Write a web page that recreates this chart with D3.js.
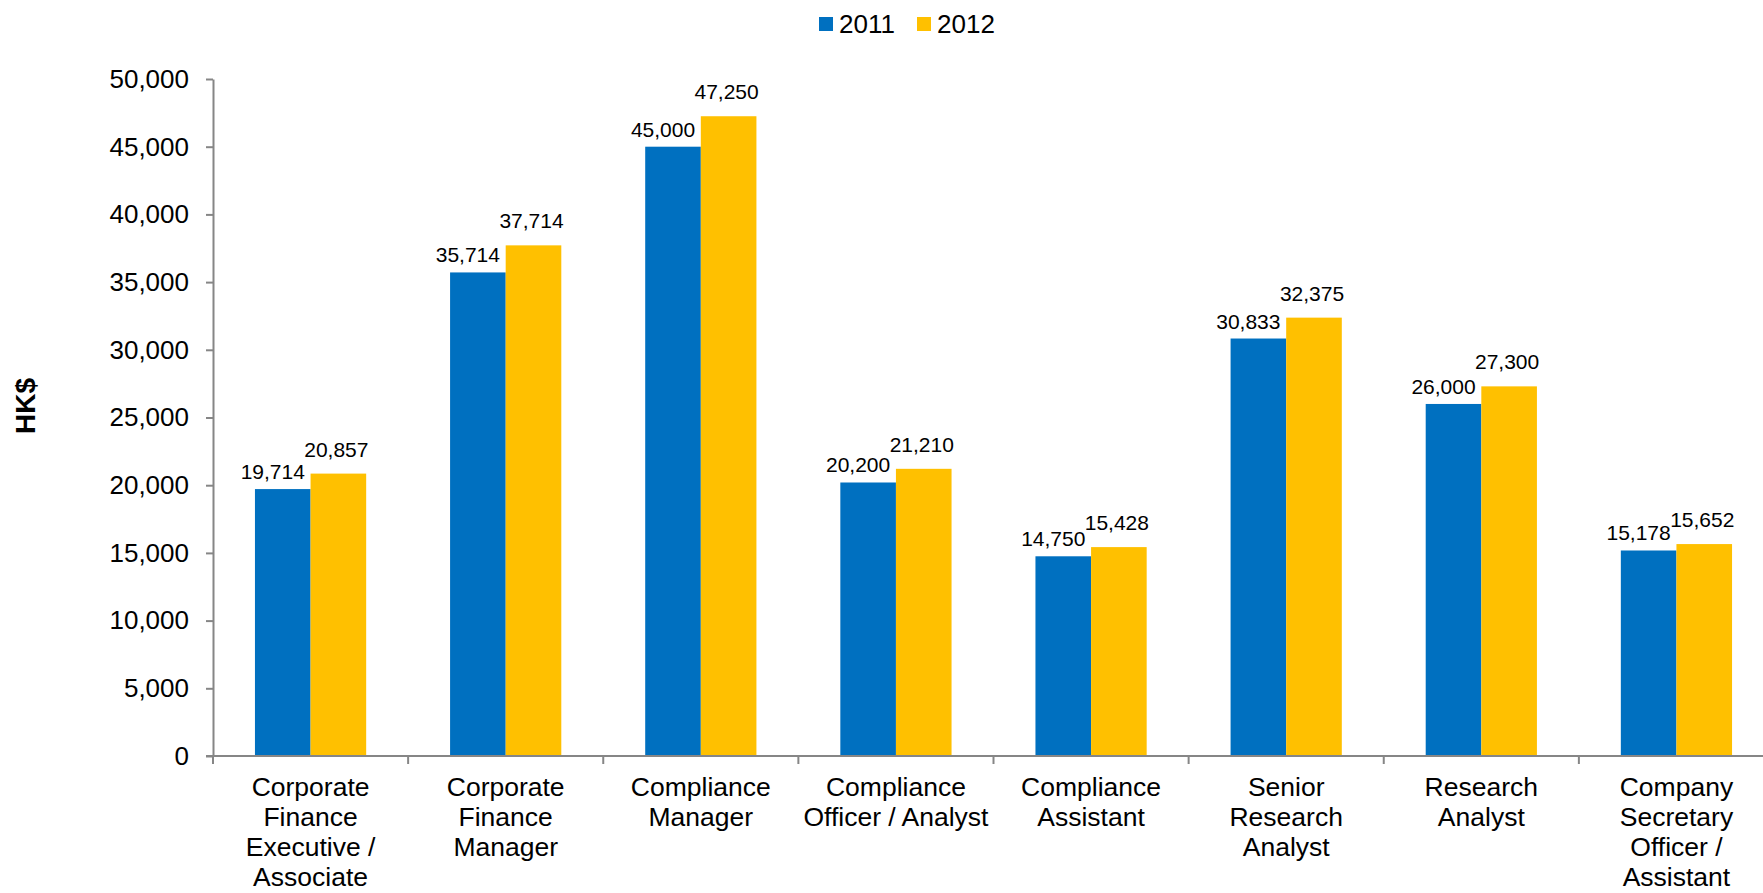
<!DOCTYPE html>
<html>
<head>
<meta charset="utf-8">
<script src="https://cdn.jsdelivr.net/npm/d3@7"></script>
<style>
  html, body { margin: 0; padding: 0; background: #fff; }
  svg { display: block; font-family: "Liberation Sans", Arial, sans-serif; }
</style>
</head>
<body>
<svg id="chart" width="1763" height="893"></svg>
<script>
// Monthly salary by role, HK$
const categories = [
  ["Corporate", "Finance", "Executive /", "Associate"],
  ["Corporate", "Finance", "Manager"],
  ["Compliance", "Manager"],
  ["Compliance", "Officer / Analyst"],
  ["Compliance", "Assistant"],
  ["Senior", "Research", "Analyst"],
  ["Research", "Analyst"],
  ["Company", "Secretary", "Officer /", "Assistant"]
];
const seriesNames = ["2011", "2012"];
const values2011 = [19714, 35714, 45000, 20200, 14750, 30833, 26000, 15178];
const values2012 = [20857, 37714, 47250, 21210, 15428, 32375, 27300, 15652];
const yTicks = [0, 5000, 10000, 15000, 20000, 25000, 30000, 35000, 40000, 45000, 50000];
const colors = ["#0070C0", "#FFC000"];

const svg = d3.select("#chart");
const plotLeft = 213, plotRight = 1774, plotTop = 79, plotBottom = 756;
const axisColor = "#868686";
const fmt = d3.format(",");

const idx = d3.range(categories.length);
const x = d3.scaleBand().domain(idx).range([plotLeft, plotRight]).paddingInner(0).paddingOuter(0);
const y = d3.scaleLinear().domain([0, 50000]).range([plotBottom, plotTop]);
const groupW = x.bandwidth() * 0.57;
const sub = d3.scaleBand().domain([0, 1]).range([0, groupW]);

// Y axis
const yAxis = svg.append("g")
  .attr("transform", `translate(${plotLeft},0)`)
  .call(d3.axisLeft(y).tickValues(yTicks).tickFormat(fmt).tickSize(7).tickPadding(17).tickSizeOuter(0));
yAxis.select(".domain").attr("stroke", axisColor).attr("stroke-width", 2);
yAxis.selectAll(".tick line").attr("stroke", axisColor).attr("stroke-width", 2);
yAxis.selectAll(".tick text").attr("font-size", 26).attr("fill", "#000")
  .attr("font-family", "Liberation Sans, Arial, sans-serif");

// Bars
const series = [values2011, values2012];
series.forEach((vals, s) => {
  svg.append("g").selectAll("rect").data(vals).join("rect")
    .attr("x", (d, i) => x(i) + (x.bandwidth() - groupW) / 2 + sub(s))
    .attr("width", sub.bandwidth())
    .attr("y", d => y(d))
    .attr("height", d => plotBottom - y(d))
    .attr("fill", colors[s]);
});

// Value labels
const labelDx = [-10, -2], labelDy = [-10, -17];
series.forEach((vals, s) => {
  svg.append("g").selectAll("text").data(vals).join("text")
    .attr("x", (d, i) => x(i) + (x.bandwidth() - groupW) / 2 + sub(s) + sub.bandwidth() / 2 + labelDx[s])
    .attr("y", d => y(d) + labelDy[s])
    .attr("text-anchor", "middle")
    .attr("font-size", 21)
    .attr("fill", "#000")
    .text(d => fmt(d));
});

// X axis with ticks at category boundaries
svg.append("line")
  .attr("x1", plotLeft - 7).attr("x2", plotRight).attr("y1", plotBottom).attr("y2", plotBottom)
  .attr("stroke", axisColor).attr("stroke-width", 2);
svg.append("g").selectAll("line").data(d3.range(categories.length + 1)).join("line")
  .attr("x1", i => plotLeft + i * x.step()).attr("x2", i => plotLeft + i * x.step())
  .attr("y1", plotBottom).attr("y2", plotBottom + 8)
  .attr("stroke", axisColor).attr("stroke-width", 2);

// Category labels
const catG = svg.append("g").selectAll("text").data(categories).join("text")
  .attr("text-anchor", "middle")
  .attr("font-size", 26.5)
  .attr("fill", "#000");
catG.each(function(lines, i) {
  d3.select(this).selectAll("tspan").data(lines).join("tspan")
    .attr("x", x(i) + x.bandwidth() / 2)
    .attr("y", (d, j) => 796 + j * 30)
    .text(d => d);
});

// Y axis title
svg.append("text")
  .attr("transform", "translate(35,406) rotate(-90)")
  .attr("text-anchor", "middle")
  .attr("font-size", 28)
  .attr("font-weight", "bold")
  .attr("fill", "#000")
  .text("HK$");

// Legend
const legendX = [819, 917];
seriesNames.forEach((name, s) => {
  svg.append("rect").attr("x", legendX[s]).attr("y", 17).attr("width", 14).attr("height", 14).attr("fill", colors[s]);
  svg.append("text").attr("x", legendX[s] + 20).attr("y", 33)
    .attr("font-size", 26).attr("fill", "#000").text(name);
});
</script>
</body>
</html>
